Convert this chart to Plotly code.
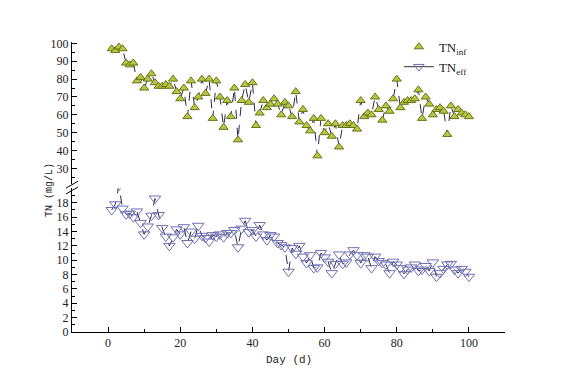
import plotly.graph_objects as go

days = list(range(1, 101))

tn_inf = [97, 96, 98, 97, 89, 88, 89, 79, 81, 75,
          80, 83, 78, 76, 76, 77, 76, 80, 73, 69,
          75, 59, 79, 64, 70, 80, 72, 80, 58, 79,
          70, 53, 68, 59, 75, 46, 68, 77, 67, 78,
          54, 61, 68, 64, 66, 69, 66, 60, 67, 65,
          59, 73, 56, 63, 54, 51, 58, 37, 58, 50,
          55, 48, 55, 42, 54, 54, 55, 54, 52, 68,
          59, 61, 60, 70, 63, 57, 65, 62, 69, 80,
          64, 67, 68, 68, 69, 74, 58, 70, 66, 60,
          63, 64, 62, 49, 65, 59, 63, 61, 60, 59]

tn_eff = [17.0, 17.8, 20.4, 17.2, 16.4, 16.5, 16.0, 16.8, 15.2, 13.6,
          14.7, 16.2, 18.6, 16.3, 14.5, 13.3, 12.0, 13.2, 14.3, 13.6,
          14.6, 12.4, 14.0, 13.0, 14.8, 13.4, 13.1, 12.6, 13.5, 13.3,
          13.6, 13.2, 13.8, 13.8, 14.2, 11.8, 14.4, 15.5, 13.9, 14.2,
          13.3, 14.9, 13.6, 12.8, 13.5, 13.3, 12.4, 12.1, 11.8, 8.4,
          11.7, 10.9, 12.0, 10.5, 9.6, 10.7, 8.9, 9.0, 11.0, 10.4,
          9.8, 8.2, 9.5, 10.8, 9.5, 9.7, 10.8, 11.4, 10.7, 9.6,
          10.7, 10.5, 8.9, 10.5, 9.9, 9.6, 9.4, 8.2, 9.8, 9.4,
          8.9, 8.1, 8.7, 9.0, 9.4, 8.5, 8.7, 9.2, 8.5, 9.7,
          7.7, 8.2, 8.8, 9.4, 9.5, 8.7, 8.2, 8.8, 8.4, 7.7]

x_ticks = [0, 20, 40, 60, 80, 100]
upper_ticks = [30, 40, 50, 60, 70, 80, 90, 100]
lower_ticks = [0, 2, 4, 6, 8, 10, 12, 14, 16, 18]

INF_FILL = "#b8c640"
INF_EDGE = "#66741a"
EFF_COL = "#7070b4"
LINE_COL = "#2a2a48"
SERIF = "Liberation Serif"
MONO = "Liberation Mono"

fig = go.Figure()

# influent connecting dashed line
fig.add_trace(go.Scatter(x=days, y=tn_inf, mode="lines", yaxis="y2",
                         line=dict(color=LINE_COL, width=1, dash="dash"),
                         showlegend=False, hoverinfo="skip"))
fig.add_trace(go.Scatter(x=days, y=tn_inf, mode="markers", yaxis="y2",
                         name="TN<sub>inf</sub>",
                         marker=dict(symbol="triangle-up", size=8, color=INF_FILL,
                                     line=dict(color=INF_EDGE, width=1))))
# effluent
fig.add_trace(go.Scatter(x=days, y=tn_eff, mode="lines+markers", yaxis="y",
                         line=dict(color=LINE_COL, width=1, dash="dash"),
                         marker=dict(symbol="triangle-down-open", size=10, color=EFF_COL,
                                     line=dict(width=1)),
                         showlegend=False))
fig.add_trace(go.Scatter(x=[None], y=[None], mode="lines+markers", yaxis="y",
                         name="TN<sub>eff</sub>",
                         line=dict(color="#333333", width=1),
                         marker=dict(symbol="triangle-down-open", size=9, color=EFF_COL)))

axis_common = dict(showline=True, linecolor="black", linewidth=1, ticks="inside",
                   ticklen=5, tickcolor="black", showgrid=False, zeroline=False,
                   tickfont=dict(family=SERIF, size=12, color="#222222"))

fig.update_layout(
    width=566, height=383,
    margin=dict(l=64, r=69, t=34, b=59),
    paper_bgcolor="white", plot_bgcolor="white",
    xaxis=dict(range=[-10, 110], tickvals=x_ticks,
               minor=dict(dtick=10, tick0=0, ticks="inside", ticklen=3, tickcolor="black"),
               **axis_common),
    yaxis=dict(domain=[0, 0.495], range=[0, 20], tickvals=lower_ticks,
               minor=dict(dtick=1, tick0=0, ticks="inside", ticklen=3, tickcolor="black"),
               anchor="x", **axis_common),
    yaxis2=dict(domain=[0.512, 1], range=[21.5, 100.8], tickvals=upper_ticks,
                minor=dict(dtick=5, tick0=0, ticks="inside", ticklen=3, tickcolor="black"),
                anchor="x", **axis_common),
    legend=dict(x=0.755, y=1.035, xanchor="left", yanchor="top",
                bgcolor="rgba(0,0,0,0)", font=dict(family=SERIF, size=13, color="#222222"),
                itemwidth=30, tracegroupgap=0),
    showlegend=True,
)

fig.add_annotation(text="TN (mg/L)", xref="paper", yref="paper", x=-0.068, y=0.49,
                   textangle=-90, showarrow=False,
                   font=dict(family=MONO, size=10, color="#222222"))
fig.add_annotation(text="Day (d)", xref="paper", yref="paper", x=0.5, y=-0.095,
                   yanchor="middle", showarrow=False,
                   font=dict(family=MONO, size=11, color="#222222"))

# axis break marks
for y0 in (0.488, 0.508):
    fig.add_shape(type="line", xref="paper", yref="paper",
                  x0=-0.014, y0=y0 - 0.012, x1=0.014, y1=y0 + 0.012,
                  line=dict(color="black", width=1))

fig.write_html("out.html")
